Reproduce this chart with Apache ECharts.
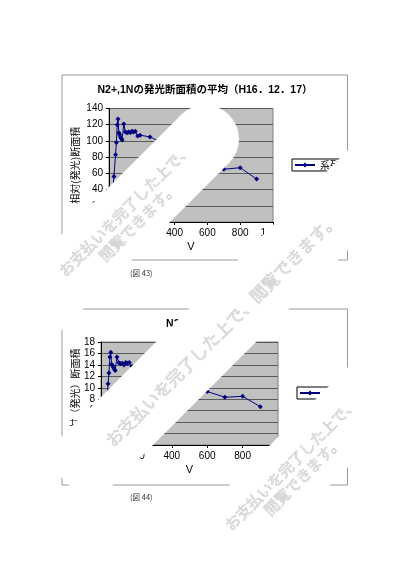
<!DOCTYPE html>
<html><head><meta charset="utf-8">
<script src="https://cdn.jsdelivr.net/npm/echarts@6/dist/echarts.min.js"></script>
<style>html,body{margin:0;padding:0;background:#fff}#c{width:410px;height:580px}</style>
</head><body><div id="c"></div>
<script>
// ---- data ----
const voltages = [20, 30, 40, 45, 50, 55, 60, 65, 70, 75, 80, 90, 100, 110, 120, 130, 140, 150, 160, 175, 190, 250, 300, 400, 500, 600, 700, 800, 900];
const chart1Values = [30, 56, 83, 98, 120, 127, 110, 108, 105, 103, 101, 121, 111, 110, 111, 110, 112, 111, 112, 106, 107, 105, 100, 88, 78, 70, 65, 67, 53];
const chart2Values = [3.9, 7.2, 10.7, 12.6, 15.4, 16.2, 14.1, 13.9, 13.6, 13.3, 13.0, 15.4, 14.4, 14.2, 14.3, 14.0, 14.4, 14.3, 14.4, 13.7, 13.8, 13.5, 12.8, 11.3, 10.0, 9.35, 8.35, 8.5, 6.7];
const xTickValues = [0, 200, 400, 600, 800, 1000];
const y1Range = [0, 140, 20];
const y2Range = [0, 18, 2];
const title1 = 'N2+,1Nの発光断面積の平均（H16．12．17）';
const title2 = 'N2+,1Nの断面積';
const yName1 = '相対(発光)断面積';
const yName2 = '相対（発光）断面積';
const xName = 'V';
const seriesName = '系列1';
const captions = ['(図 43)', '(図 44)'];
const wmLine1 = 'お支払いを完了した上で、';
const wmLine2 = '閲覧できます。';

const FONT = '"Liberation Sans", "Noto Sans CJK JP", sans-serif';
const CJK = '"Noto Sans CJK JP", sans-serif';

function axisX(gi) {
  return {
    gridIndex: gi, type: 'value', min: xTickValues[0], max: xTickValues[xTickValues.length - 1],
    interval: xTickValues[1] - xTickValues[0],
    name: xName, nameLocation: 'middle', nameGap: 19,
    nameTextStyle: { fontSize: 11, color: '#000', fontFamily: FONT },
    axisLine: { show: true, onZero: false, lineStyle: { color: '#000', width: 1 } },
    axisTick: { show: true, length: 3, lineStyle: { color: '#000' } },
    axisLabel: { fontSize: 10, color: '#000', margin: 6, fontFamily: FONT },
    splitLine: { show: false }
  };
}
function axisY(gi, r, name, gap) {
  return {
    gridIndex: gi, type: 'value', min: r[0], max: r[1], interval: r[2],
    name: name, nameLocation: 'middle', nameGap: gap, nameRotate: 90,
    nameTextStyle: { fontSize: 10, color: '#000', fontFamily: CJK },
    axisLine: { show: true, lineStyle: { color: '#000', width: 1 } },
    axisTick: { show: true, length: 3, lineStyle: { color: '#000' } },
    axisLabel: { fontSize: 10, color: '#000', margin: 6, fontFamily: FONT },
    splitLine: { show: true, lineStyle: { color: '#5a5a5a', width: 1 } }
  };
}
function lineSeries(xi, values) {
  return {
    name: seriesName, type: 'line', xAxisIndex: xi, yAxisIndex: xi,
    data: voltages.map((v, i) => [v, values[i]]),
    symbol: 'diamond', symbolSize: 5, showSymbol: true,
    itemStyle: { color: '#000080' },
    lineStyle: { color: '#000080', width: 1 },
    animation: false, z: 3
  };
}
function legend(left, top) {
  return {
    left: left, top: top, orient: 'vertical', data: [seriesName],
    itemWidth: 20, itemHeight: 6, itemGap: 2,
    padding: [1, 3, 1, 2], borderColor: '#000', borderWidth: 1, backgroundColor: '#fff',
    textStyle: { fontSize: 10, color: '#000', fontFamily: CJK },
    selectedMode: false
  };
}
function rectLines(x0, y0, x1, y1) {
  const s = { stroke: '#9a9a9a', lineWidth: 1 };
  return [
    { type: 'line', shape: { x1: x0, y1: y0, x2: x1, y2: y0 }, style: s, z: 1 },
    { type: 'line', shape: { x1: x0, y1: y1, x2: x1, y2: y1 }, style: s, z: 1 },
    { type: 'line', shape: { x1: x0, y1: y0, x2: x0, y2: y1 }, style: s, z: 1 },
    { type: 'line', shape: { x1: x1, y1: y0, x2: x1, y2: y1 }, style: s, z: 1 }
  ];
}
function wmText(txt, cx, cy, size) {
  return {
    type: 'text', x: cx, y: cy, rotation: Math.PI / 4, z: 120,
    style: { text: txt, fill: '#dedede', stroke: '#b4b4b4', lineWidth: 0.45,
      font: size + 'px "Noto Sans CJK JP"', align: 'center', verticalAlign: 'middle' }
  };
}
const white = { fill: '#fff' };
const graphics = [].concat(
  rectLines(62, 75, 347.5, 260),
  rectLines(62, 309, 347.5, 485),
  [
    { type: 'text', x: 130, y: 273, z: 1, style: { text: captions[0], fill: '#333', font: '7.5px "Noto Sans CJK JP"', verticalAlign: 'middle' } },
    { type: 'text', x: 130, y: 497, z: 1, style: { text: captions[1], fill: '#333', font: '7.5px "Noto Sans CJK JP"', verticalAlign: 'middle' } },
    // white watermark bands
    { type: 'polygon', z: 100, shape: { points: [[181, 115], [229, 163], [-71, 463], [-119, 415]] }, style: white },
    { type: 'circle', z: 100, shape: { cx: 205, cy: 139, r: 34 }, style: white },
    { type: 'polygon', z: 100, shape: { points: [[41, 457], [91, 507], [591, 7], [541, -43]] }, style: white },
    { type: 'polygon', z: 100, shape: { points: [[0, 715], [715, 0], [815, 0], [0, 815]] }, style: white },
    wmText(wmLine1, 125, 210, 15),
    wmText(wmLine2, 138, 222, 15),
    wmText(wmLine1 + wmLine2, 222, 330, 17),
    wmText(wmLine1, 291, 464, 15),
    wmText(wmLine2, 303, 476, 15)
  ]
);

const chart = echarts.init(document.getElementById('c'), null, { renderer: 'canvas' });
chart.setOption({
  animation: false,
  backgroundColor: '#fff',
  textStyle: { fontFamily: FONT },
  title: [
    { text: title1, left: 'center', top: 80, textStyle: { fontSize: 10.5, fontWeight: 'bold', color: '#000', fontFamily: FONT } },
    { text: title2, left: 'center', top: 314, textStyle: { fontSize: 10.5, fontWeight: 'bold', color: '#000', fontFamily: FONT } }
  ],
  grid: [
    { left: 109, top: 108.5, width: 164, height: 113.5, show: true, backgroundColor: '#c0c0c0', borderColor: '#808080', borderWidth: 1, containLabel: false },
    { left: 101, top: 342, width: 177, height: 103, show: true, backgroundColor: '#c0c0c0', borderColor: '#808080', borderWidth: 1, containLabel: false }
  ],
  xAxis: [axisX(0), axisX(1)],
  yAxis: [axisY(0, y1Range, yName1, 29), axisY(1, y2Range, yName2, 21)],
  legend: [legend(292, 159), legend(297, 387)],
  series: [lineSeries(0, chart1Values), lineSeries(1, chart2Values)],
  graphic: { elements: graphics }
});
</script></body></html>
